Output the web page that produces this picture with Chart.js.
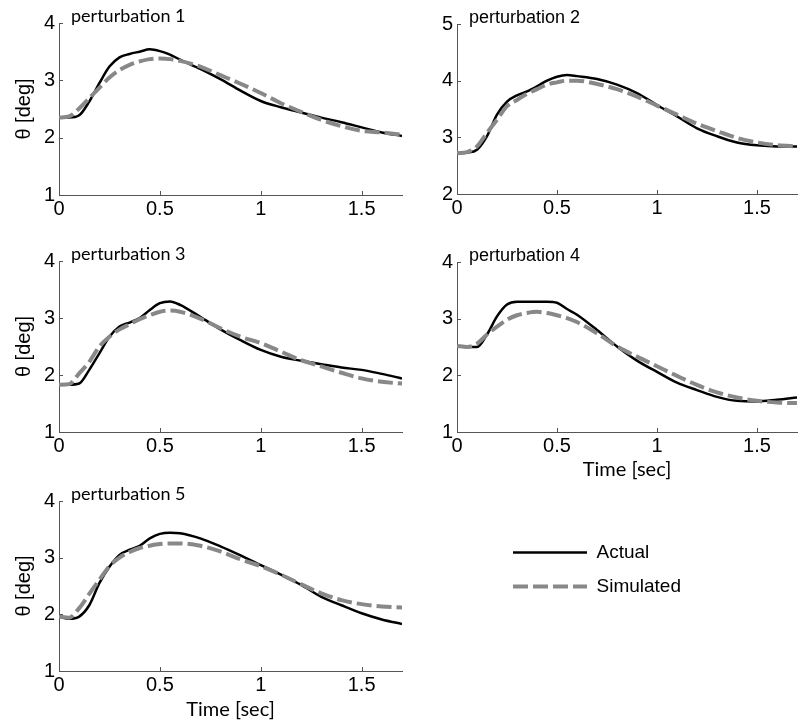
<!DOCTYPE html>
<html>
<head>
<meta charset="utf-8">
<script src="https://cdn.jsdelivr.net/npm/chart.js@4.4.1/dist/chart.umd.min.js"></script>
<style>
  body { margin: 0; background: #fff; }
  #wrap { position: relative; width: 805px; height: 725px; }
  canvas { position: absolute; }
</style>
</head>
<body>
<div id="wrap">
  <canvas id="p1" width="405" height="230" style="left:0;top:0"></canvas>
  <canvas id="p2" width="405" height="230" style="left:400px;top:0"></canvas>
  <canvas id="p3" width="405" height="230" style="left:0;top:238px"></canvas>
  <canvas id="p4" width="405" height="245" style="left:400px;top:238px"></canvas>
  <canvas id="p5" width="405" height="247" style="left:0;top:478px"></canvas>
  <canvas id="leg" width="300" height="110" style="left:498px;top:528px"></canvas>
</div>
<script>
// time samples [sec]
const TIME = [0, 0.05, 0.1, 0.15, 0.2, 0.25, 0.3, 0.35, 0.4, 0.45, 0.5, 0.55, 0.6,
              0.7, 0.8, 0.9, 1.0, 1.1, 1.2, 1.3, 1.4, 1.5, 1.6, 1.7];

// theta [deg]
const actual1 = [2.35, 2.35, 2.39, 2.63, 2.95, 3.24, 3.40, 3.46, 3.50, 3.54, 3.51, 3.45, 3.36, 3.20, 3.02, 2.82, 2.64, 2.53, 2.44, 2.35, 2.27, 2.18, 2.09, 2.03];
const sim1    = [2.35, 2.37, 2.51, 2.69, 2.87, 3.05, 3.18, 3.27, 3.33, 3.37, 3.38, 3.37, 3.34, 3.24, 3.09, 2.94, 2.78, 2.60, 2.45, 2.31, 2.20, 2.12, 2.09, 2.05];
const actual2 = [2.72, 2.73, 2.78, 3.02, 3.40, 3.63, 3.74, 3.81, 3.90, 4.00, 4.07, 4.10, 4.08, 4.03, 3.93, 3.78, 3.57, 3.37, 3.16, 3.02, 2.91, 2.86, 2.84, 2.84];
const sim2    = [2.72, 2.74, 2.84, 3.08, 3.31, 3.55, 3.66, 3.77, 3.85, 3.93, 3.97, 4.00, 4.00, 3.94, 3.85, 3.72, 3.56, 3.40, 3.24, 3.11, 2.99, 2.91, 2.86, 2.84];
const actual3 = [1.83, 1.83, 1.85, 2.09, 2.38, 2.67, 2.85, 2.92, 3.00, 3.14, 3.26, 3.29, 3.23, 3.02, 2.80, 2.61, 2.44, 2.32, 2.25, 2.19, 2.13, 2.09, 2.02, 1.94];
const sim3    = [1.83, 1.84, 2.03, 2.23, 2.50, 2.67, 2.80, 2.89, 2.98, 3.05, 3.11, 3.13, 3.11, 2.99, 2.82, 2.67, 2.56, 2.41, 2.26, 2.15, 2.04, 1.94, 1.88, 1.85];
const actual4 = [2.52, 2.50, 2.50, 2.72, 3.04, 3.25, 3.30, 3.30, 3.30, 3.30, 3.28, 3.17, 3.07, 2.80, 2.51, 2.26, 2.06, 1.87, 1.74, 1.62, 1.55, 1.54, 1.57, 1.61];
const sim4    = [2.52, 2.50, 2.56, 2.72, 2.86, 2.98, 3.06, 3.10, 3.12, 3.10, 3.06, 3.01, 2.94, 2.74, 2.51, 2.33, 2.16, 1.99, 1.83, 1.70, 1.61, 1.55, 1.52, 1.51];
const actual5 = [1.96, 1.92, 1.96, 2.16, 2.55, 2.84, 3.05, 3.14, 3.21, 3.34, 3.42, 3.44, 3.43, 3.34, 3.20, 3.04, 2.87, 2.70, 2.52, 2.31, 2.16, 2.02, 1.91, 1.83];
const sim5    = [1.96, 1.94, 2.11, 2.36, 2.61, 2.85, 3.00, 3.10, 3.17, 3.21, 3.24, 3.25, 3.25, 3.21, 3.11, 2.97, 2.85, 2.70, 2.53, 2.37, 2.25, 2.18, 2.14, 2.12];

const titles = ["perturbation 1", "perturbation 2", "perturbation 3", "perturbation 4", "perturbation 5"];
const yRanges = [[1, 4], [2, 5], [1, 4], [1, 4], [1, 4]];

Chart.defaults.color = "#000";
Chart.defaults.font.family = "'Liberation Sans', Arial, sans-serif";
Chart.defaults.animation = false;

const AXIS = "#555";

// small inward tick marks, matlab style
const innerTicks = {
    id: "innerTicks",
    afterDraw(chart) {
        const ctx = chart.ctx;
        const area = chart.chartArea;
        const x = chart.scales.x, y = chart.scales.y;
        ctx.save();
        ctx.strokeStyle = AXIS;
        ctx.lineWidth = 1;
        ctx.beginPath();
        x.ticks.forEach((t) => {
            if (t.value === x.min) return;
            const px = Math.round(x.getPixelForValue(t.value)) + 0.5;
            ctx.moveTo(px, area.bottom);
            ctx.lineTo(px, area.bottom - 4);
        });
        y.ticks.forEach((t) => {
            if (t.value === y.min) return;
            const py = Math.round(y.getPixelForValue(t.value)) + 0.5;
            ctx.moveTo(area.left, py);
            ctx.lineTo(area.left + 4, py);
        });
        ctx.stroke();
        ctx.restore();
    },
};

// subplot label drawn just inside the top left corner
const panelTitle = {
    id: "panelTitle",
    afterDraw(chart, args, opts) {
        if (!opts.text) return;
        const ctx = chart.ctx;
        ctx.save();
        ctx.font = opts.font;
        ctx.fillStyle = "#000";
        ctx.textBaseline = "alphabetic";
        ctx.fillText(opts.text, chart.chartArea.left + 12, chart.chartArea.top - 1);
        ctx.restore();
    },
};

function series(ys) {
    return TIME.map((t, i) => ({ x: t, y: ys[i] }));
}

function makePanel(id, idx, act, sim, lay) {
    return new Chart(document.getElementById(id), {
        type: "line",
        data: {
            datasets: [
                {
                    label: "Simulated",
                    data: series(sim),
                    borderColor: "#888",
                    borderWidth: 4,
                    borderDash: [15, 5],
                    pointRadius: 0,
                    cubicInterpolationMode: "monotone",
                },
                {
                    label: "Actual",
                    data: series(act),
                    borderColor: "#000",
                    borderWidth: 2.5,
                    pointRadius: 0,
                    cubicInterpolationMode: "monotone",
                },
            ],
        },
        options: {
            responsive: false,
            layout: { padding: { top: lay.top, right: lay.right, left: 0, bottom: 0 } },
            plugins: {
                legend: { display: false },
                tooltip: { enabled: false },
                panelTitle: { text: titles[idx], font: lay.titleFont },
            },
            scales: {
                x: {
                    type: "linear",
                    min: 0,
                    max: 1.7,
                    grid: { display: false, drawTicks: false },
                    border: { color: AXIS, width: 1 },
                    ticks: {
                        stepSize: 0.5,
                        includeBounds: false,
                        padding: 2,
                        font: { size: 20 },
                        callback: (v) => String(Math.round(v * 10) / 10),
                    },
                    title: {
                        display: !!lay.xTitle,
                        text: "Time [sec]",
                        font: { family: "Lato", size: 20 },
                        padding: { top: 0, bottom: lay.xTitlePad || 0 },
                    },
                    afterFit: (s) => { s.height = lay.xH; },
                },
                y: {
                    min: yRanges[idx][0],
                    max: yRanges[idx][1],
                    grid: { display: false, drawTicks: false },
                    border: { color: AXIS, width: 1 },
                    ticks: { stepSize: 1, padding: 4, font: { size: 20 } },
                    title: {
                        display: !!lay.yTitle,
                        text: "θ [deg]",
                        font: { size: 20 },
                        padding: { top: 12, bottom: 0 },
                    },
                    afterFit: (s) => { s.width = lay.yW; },
                },
            },
        },
        plugins: [innerTicks, panelTitle],
    });
}

const leftFont = "18px Lato";
const rightFont = "18px 'Liberation Sans'";

makePanel("p1", 0, actual1, sim1, { top: 23, right: 3, yW: 59, xH: 35, yTitle: true, titleFont: leftFont });
makePanel("p2", 1, actual2, sim2, { top: 24, right: 8, yW: 57, xH: 36, titleFont: rightFont });
makePanel("p3", 2, actual3, sim3, { top: 23, right: 3, yW: 59, xH: 36, yTitle: true, titleFont: leftFont });
makePanel("p4", 3, actual4, sim4, { top: 24, right: 8, yW: 57, xH: 51, xTitle: true, xTitlePad: 1, titleFont: rightFont });
makePanel("p5", 4, actual5, sim5, { top: 23, right: 3, yW: 59, xH: 54, yTitle: true, xTitle: true, xTitlePad: 3, titleFont: leftFont });

// shared legend
new Chart(document.getElementById("leg"), {
    type: "line",
    data: {
        datasets: [
            { label: "Actual", data: [], borderColor: "#000", borderWidth: 2.5 },
            { label: "Simulated", data: [], borderColor: "#888", borderWidth: 4, borderDash: [15, 5] },
        ],
    },
    options: {
        responsive: false,
        scales: { x: { display: false }, y: { display: false } },
        plugins: {
            tooltip: { enabled: false },
            legend: {
                position: "left",
                align: "start",
                maxWidth: 280,
                labels: {
                    usePointStyle: true,
                    pointStyleWidth: 74,
                    padding: 15,
                    font: { size: 19 },
                    generateLabels: (chart) =>
                        chart.data.datasets.map((ds, i) => ({
                            text: ds.label,
                            strokeStyle: ds.borderColor,
                            fillStyle: ds.borderColor,
                            lineWidth: ds.borderWidth,
                            lineDash: ds.borderDash || [],
                            pointStyle: "line",
                            datasetIndex: i,
                            hidden: false,
                        })),
                },
            },
        },
    },
});
</script>
</body>
</html>
